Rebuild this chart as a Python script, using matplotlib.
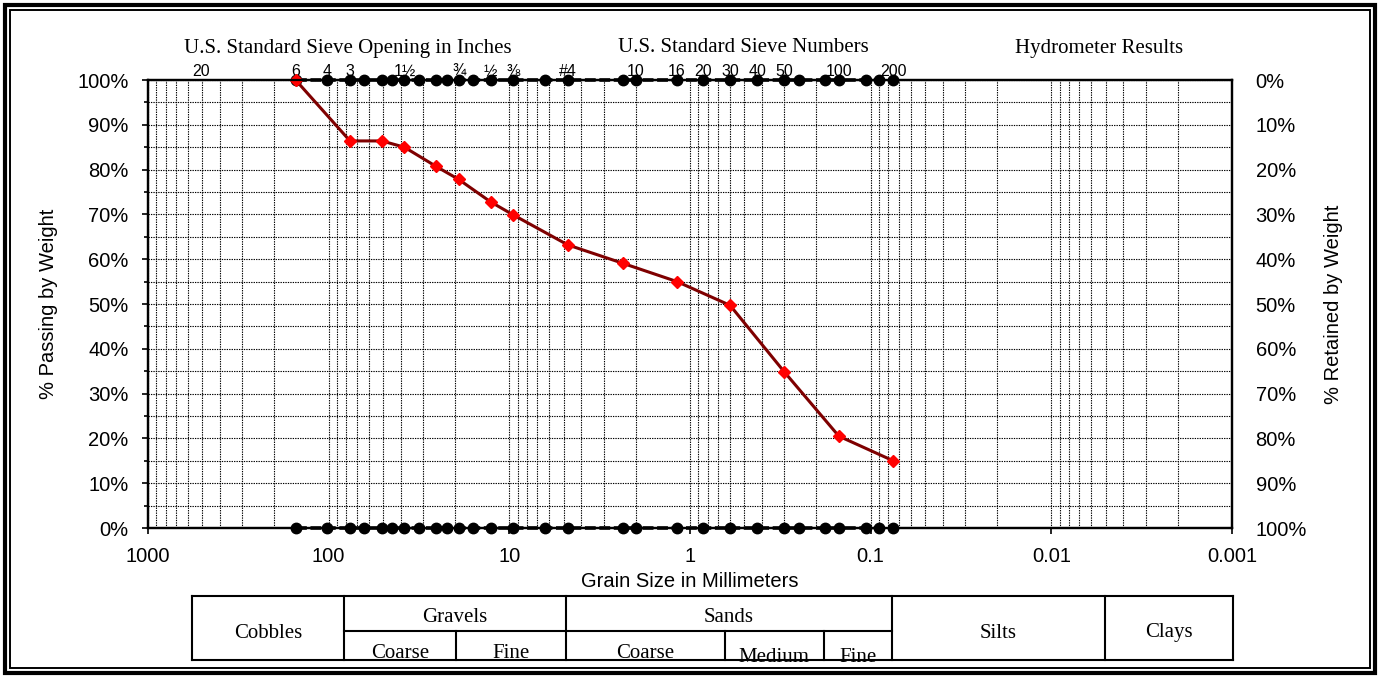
import matplotlib
matplotlib.use("Agg")
import matplotlib.pyplot as plt
from matplotlib.lines import Line2D
from matplotlib.patches import Rectangle
from matplotlib.ticker import FixedLocator, FuncFormatter, NullFormatter
import matplotlib.transforms as mtransforms

# ---------------- data ----------------
sieve_mm = [152.4, 101.6, 76.2, 63.5, 50.8, 44.45, 38.1, 31.75, 25.4, 22.2, 19.05,
            15.9, 12.7, 9.525, 6.35, 4.75, 2.36, 2.0, 1.18, 0.85, 0.6, 0.425, 0.3,
            0.25, 0.18, 0.15, 0.106, 0.09, 0.075]
label_mm = [508, 152.4, 101.6, 76.2, 38.1, 19.05, 12.7, 9.525, 4.75, 2.0, 1.18,
            0.85, 0.6, 0.425, 0.3, 0.15, 0.075]
label_txt = ['20', '6', '4', '3', '1½', '¾', '½', '⅜', '#4', '10', '16', '20',
             '30', '40', '50', '100', '200']
test_mm = [152.4, 76.2, 50.8, 38.1, 25.4, 19.05, 12.7, 9.525, 4.75, 2.36, 1.18,
           0.6, 0.3, 0.15, 0.075]
passing = [100, 86.4, 86.4, 85.0, 80.7, 77.8, 72.8, 69.9, 63.2, 59.1, 55.0,
           49.7, 34.8, 20.5, 15.0]
x_major = [1000, 100, 10, 1, 0.1, 0.01, 0.001]
x_major_lbl = ['1000', '100', '10', '1', '0.1', '0.01', '0.001']
y_major = list(range(0, 101, 10))
y_minor = list(range(5, 100, 10))
headers = ['U.S. Standard Sieve Opening in Inches', 'U.S. Standard Sieve Numbers',
           'Hydrometer Results']

SANS = ['Liberation Sans', 'DejaVu Sans']
SERIF = ['Liberation Serif', 'DejaVu Serif']
plt.rcParams['font.family'] = SANS

W, H = 1379, 677
fig = plt.figure(figsize=(W / 100, H / 100), dpi=100)

def fx(p):
    return p / W

def fy(p):
    return 1 - p / H

L, R, T, B = 148, 1232, 80, 528
ax = fig.add_axes([fx(L), fy(B), fx(R) - fx(L), fy(T) - fy(B)])
ax.set_xscale('log')
ax.set_xlim(1000, 0.001)
ax.set_ylim(0, 100)

# grid
minor_x = [m * 10 ** e for e in range(-3, 3) for m in range(2, 10)]
ax.xaxis.set_major_locator(FixedLocator(x_major))
ax.xaxis.set_minor_locator(FixedLocator(minor_x))
ax.xaxis.set_major_formatter(FuncFormatter(lambda v, p: x_major_lbl[x_major.index(min(x_major, key=lambda m: abs(m - v)))]))
ax.xaxis.set_minor_formatter(NullFormatter())
ax.yaxis.set_major_locator(FixedLocator(y_major))
ax.yaxis.set_minor_locator(FixedLocator(y_minor))
ax.yaxis.set_major_formatter(FuncFormatter(lambda v, p: f'{int(round(v))}%'))
gstyle = dict(color='black', linestyle=(0, (1.2, 1.0)), linewidth=0.8)
ax.grid(True, which='both', axis='both', **gstyle)
ax.set_axisbelow(True)

ax.tick_params(axis='x', which='major', direction='out', length=4, width=1.2,
               labelsize=14.5, pad=10)
ax.tick_params(axis='x', which='minor', length=0)
ax.tick_params(axis='y', which='major', direction='out', length=4.5, width=1.2,
               labelsize=14.5, pad=9.5)
ax.tick_params(axis='y', which='minor', direction='out', length=3, width=1.2)
for s in ax.spines.values():
    s.set_linewidth(1.6)
    s.set_color('black')

ax.set_xlabel('Grain Size in Millimeters', fontsize=14.5, labelpad=4)
ax.set_ylabel('% Passing by Weight', fontsize=14.5, labelpad=14)

# right axis
ax2 = ax.twinx()
ax2.set_ylim(100, 0)
ax2.yaxis.set_major_locator(FixedLocator(y_major))
ax2.yaxis.set_major_formatter(FuncFormatter(lambda v, p: f'{int(round(v))}%'))
ax2.tick_params(axis='y', which='major', length=0, labelsize=14.5, pad=17)
ax2.set_ylabel('% Retained by Weight', fontsize=14.5, labelpad=12)
for s in ax2.spines.values():
    s.set_linewidth(1.6)

# sieve marker lines at top and bottom
for yv in (100, 0):
    ax.plot(sieve_mm, [yv] * len(sieve_mm), color='black', linewidth=2.6,
            linestyle=(0, (3, 1)), marker='o', markersize=7.5,
            markerfacecolor='black', markeredgecolor='black',
            clip_on=False, zorder=4)

# gradation curve
ax.plot(test_mm, passing, color='#7F0000', linewidth=2.2, marker='D',
        markersize=6.5, markerfacecolor='#FF0000', markeredgecolor='#FF0000',
        clip_on=False, zorder=6)

# sieve labels along top
trans = mtransforms.blended_transform_factory(ax.transData, ax.transAxes)
off = mtransforms.offset_copy(trans, fig=fig, x=0, y=1, units='dots')
for mm, t in zip(label_mm, label_txt):
    ax.text(mm, 1.0, t, transform=off, ha='center', va='bottom', fontsize=11.5,
            family=SANS)

# headers
for t, xc in zip(headers, [348, 743, 1099]):
    fig.text(fx(xc), fy(48), t, ha='center', va='center', fontsize=15,
             family=SERIF)

# ---------------- classification table ----------------
def hline(x0, x1, y, lw=1.5):
    fig.add_artist(Line2D([fx(x0), fx(x1)], [fy(y), fy(y)], color='black',
                          linewidth=lw, transform=fig.transFigure))

def vline(x, y0, y1, lw=1.5):
    fig.add_artist(Line2D([fx(x), fx(x)], [fy(y0), fy(y1)], color='black',
                          linewidth=lw, transform=fig.transFigure))

tl, tr, tt, tm, tb = 192, 1233, 596, 631, 660
hline(tl, tr, tt)
hline(tl, tr, tb)
hline(344, 892, tm)
for xv in (tl, 344, 566, 892, 1105, tr):
    vline(xv, tt, tb)
for xv in (456, 725, 824):
    vline(xv, tm, tb)

cell_txt = [('Cobbles', 268, 633), ('Gravels', 455, 617), ('Sands', 729, 617),
            ('Silts', 998, 633), ('Clays', 1169, 633)]
for t, xc, yc in cell_txt:
    fig.text(fx(xc), fy(yc), t, ha='center', va='center', fontsize=15,
             family=SERIF)
sub_txt = [('Coarse', 400, 658), ('Fine', 511, 658), ('Coarse', 645, 658),
           ('Medium', 774, 662), ('Fine', 858, 662)]
for t, xc, yb in sub_txt:
    fig.text(fx(xc), fy(yb), t, ha='center', va='baseline', fontsize=15,
             family=SERIF, zorder=1)

# double border
fig.add_artist(Rectangle((fx(4.5), fy(672.5)), fx(W - 9), 1 - fy(H - 9), fill=False,
                         edgecolor='black', linewidth=3.0,
                         transform=fig.transFigure))
fig.add_artist(Rectangle((fx(9.5), fy(667.5)), fx(W - 19), 1 - fy(H - 19), fill=False,
                         edgecolor='black', linewidth=1.4,
                         transform=fig.transFigure))

fig.savefig('out.png', dpi=100)
